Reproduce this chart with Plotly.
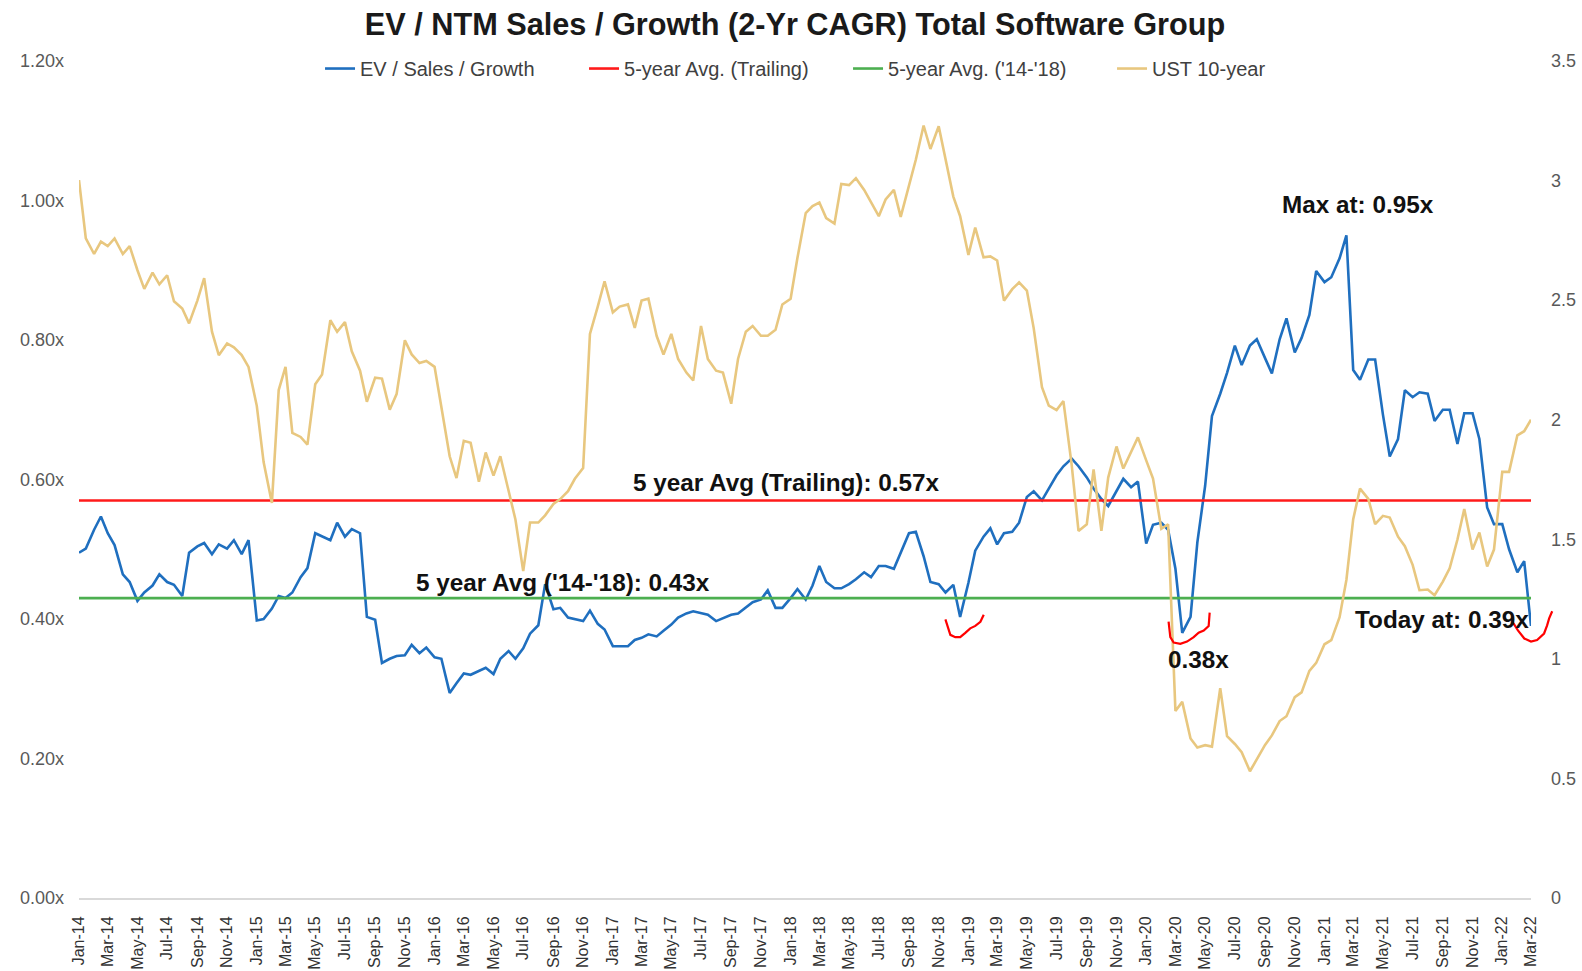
import pandas as pd
import plotly.graph_objects as go

# Semi-monthly observation dates (1st and 15th), Jan-2014 .. Mar-2022
dates = pd.date_range("2014-01-01", periods=197, freq="SMS")

# EV / NTM Sales / Growth multiple (left axis, x)
ev_sales_growth = [
    0.495, 0.501, 0.528, 0.547, 0.523, 0.506, 0.464, 0.453, 0.426, 0.438,
    0.448, 0.464, 0.453, 0.449, 0.433, 0.495, 0.504, 0.509, 0.493, 0.507,
    0.501, 0.513, 0.493, 0.513, 0.398, 0.400, 0.415, 0.433, 0.430, 0.438,
    0.460, 0.473, 0.523, 0.518, 0.513, 0.538, 0.518, 0.529, 0.523, 0.403,
    0.399, 0.337, 0.343, 0.347, 0.348, 0.363, 0.351, 0.359, 0.345, 0.343,
    0.294, 0.308, 0.322, 0.320, 0.326, 0.330, 0.321, 0.343, 0.354, 0.343,
    0.358, 0.379, 0.391, 0.450, 0.414, 0.416, 0.402, 0.400, 0.397, 0.412,
    0.393, 0.385, 0.361, 0.361, 0.361, 0.370, 0.373, 0.378, 0.375,
    0.383, 0.392, 0.402, 0.408, 0.411, 0.408, 0.406, 0.397, 0.401, 0.406,
    0.408, 0.416, 0.424, 0.428, 0.441, 0.416, 0.416, 0.430, 0.443, 0.428,
    0.448, 0.476, 0.453, 0.444, 0.444, 0.450, 0.457, 0.467, 0.460, 0.476,
    0.476, 0.472, 0.495, 0.523, 0.525, 0.490, 0.453, 0.450, 0.438,
    0.449, 0.403, 0.452, 0.498, 0.518, 0.530, 0.507, 0.523, 0.525, 0.538,
    0.575, 0.583, 0.570, 0.587, 0.606, 0.619, 0.630, 0.619, 0.603, 0.587,
    0.572, 0.562, 0.584, 0.601, 0.589, 0.597, 0.508, 0.535, 0.538, 0.528,
    0.472, 0.380, 0.403, 0.510, 0.591, 0.691, 0.723, 0.753, 0.792, 0.764,
    0.792, 0.801, 0.774, 0.752, 0.801, 0.831, 0.782, 0.803, 0.836, 0.899,
    0.883, 0.890, 0.917, 0.950, 0.757, 0.743, 0.772, 0.772, 0.693, 0.633,
    0.658, 0.728, 0.718, 0.725, 0.723, 0.684, 0.700, 0.700, 0.651, 0.695,
    0.695, 0.658, 0.560, 0.536, 0.536, 0.500, 0.467, 0.483, 0.390,
]

# UST 10-year yield (right axis, %)
ust_10y = [
    3.002, 2.758, 2.693, 2.745, 2.726, 2.758, 2.693, 2.726, 2.625, 2.547,
    2.615, 2.566, 2.604, 2.495, 2.465, 2.403, 2.498, 2.592, 2.368, 2.270,
    2.319, 2.303, 2.270, 2.221, 2.058, 1.823, 1.652, 2.124, 2.221, 1.945,
    1.928, 1.896, 2.148, 2.189, 2.416, 2.368, 2.408, 2.286, 2.205, 2.075,
    2.176, 2.172, 2.042, 2.107, 2.332, 2.273, 2.237, 2.246, 2.221, 2.058,
    1.847, 1.756, 1.912, 1.904, 1.741, 1.863, 1.766, 1.847, 1.701, 1.583,
    1.367, 1.570, 1.570, 1.600, 1.648, 1.668, 1.701, 1.753, 1.798, 2.359,
    2.473, 2.579, 2.449, 2.473, 2.482, 2.384, 2.498, 2.506, 2.350,
    2.273, 2.359, 2.254, 2.197, 2.164, 2.392, 2.254, 2.205, 2.197, 2.067,
    2.254, 2.368, 2.392, 2.351, 2.351, 2.376, 2.482, 2.506, 2.677, 2.864,
    2.893, 2.908, 2.843, 2.820, 2.986, 2.981, 3.010, 2.961, 2.908, 2.851,
    2.921, 2.961, 2.848, 2.978, 3.087, 3.230, 3.132, 3.227, 3.085,
    2.933, 2.851, 2.689, 2.803, 2.679, 2.683, 2.666, 2.498, 2.546, 2.574,
    2.540, 2.383, 2.136, 2.059, 2.040, 2.078, 1.811, 1.535, 1.563, 1.792,
    1.535, 1.758, 1.888, 1.796, 1.869, 1.926, 1.830, 1.754, 1.544, 1.563,
    0.782, 0.820, 0.667, 0.629, 0.639, 0.633, 0.877, 0.677, 0.644, 0.610,
    0.530, 0.580, 0.640, 0.680, 0.740, 0.760, 0.840, 0.860, 0.950, 0.983,
    1.061, 1.078, 1.174, 1.330, 1.584, 1.712, 1.669, 1.563, 1.598, 1.591,
    1.511, 1.471, 1.393, 1.287, 1.290, 1.266, 1.323, 1.379, 1.499, 1.627,
    1.457, 1.528, 1.386, 1.457, 1.782, 1.782, 1.935, 1.952, 2.000,
]

# Horizontal average lines
avg_trailing = 0.57
avg_14_18 = 0.43

series_names = ["EV / Sales / Growth", "5-year Avg. (Trailing)", "5-year Avg. ('14-'18)", "UST 10-year"]
series_colors = ["#1f6fbf", "#ff1a1a", "#4caf50", "#e8c77f"]

FONT = "Liberation Sans, Arial, sans-serif"

fig = go.Figure()
fig.add_trace(go.Scatter(x=dates, y=ev_sales_growth, name=series_names[0], mode="lines",
                         line=dict(color=series_colors[0], width=2.6)))
fig.add_trace(go.Scatter(x=[dates[0], dates[-1]], y=[avg_trailing, avg_trailing], name=series_names[1],
                         mode="lines", line=dict(color=series_colors[1], width=2.6)))
fig.add_trace(go.Scatter(x=[dates[0], dates[-1]], y=[avg_14_18, avg_14_18], name=series_names[2],
                         mode="lines", line=dict(color=series_colors[2], width=2.6)))
fig.add_trace(go.Scatter(x=dates, y=ust_10y, name=series_names[3], mode="lines", yaxis="y2",
                         line=dict(color=series_colors[3], width=2.6)))

# Hand-drawn red "smile" marks (paper coordinates)
arcs = [
    [(0.5967, 0.3328), (0.6001, 0.3144), (0.6035, 0.3116), (0.6069, 0.3116), (0.6104, 0.3168),
     (0.6138, 0.3222), (0.6173, 0.3251), (0.6208, 0.3300), (0.6231, 0.3384)],
    [(0.7504, 0.3302), (0.7516, 0.3116), (0.7539, 0.3052), (0.7585, 0.3036), (0.7631, 0.3063),
     (0.7677, 0.3116), (0.7711, 0.3169), (0.7746, 0.3195), (0.7780, 0.3250), (0.7787, 0.3409)],
    [(0.9864, 0.3323), (0.9910, 0.3197), (0.9954, 0.3100), (1.0000, 0.3064), (1.0042, 0.3082),
     (1.0090, 0.3160), (1.0111, 0.3257), (1.0125, 0.3341), (1.0146, 0.3426)],
]
for pts in arcs:
    path = "M " + " L ".join(f"{px},{py}" for px, py in pts)
    fig.add_shape(type="path", path=path, xref="paper", yref="paper",
                  line=dict(color="#ff0000", width=2.2), layer="above")

annotations = [
    ("Max at: 0.95x", "2021-03-10", 0.994),
    ("5 year Avg (Trailing): 0.57x", "2017-12-23", 0.596),
    ("5 year Avg ('14-'18): 0.43x", "2016-09-21", 0.452),
    ("0.38x", "2020-04-17", 0.342),
    ("Today at: 0.39x", "2021-08-30", 0.400),
]
for text, ax_, ay_ in annotations:
    fig.add_annotation(x=ax_, y=ay_, xref="x", yref="y", text=f"<b>{text}</b>", showarrow=False,
                       font=dict(family=FONT, size=24.3, color="#111111"))

fig.update_layout(
    width=1582, height=971,
    margin=dict(l=79, r=51, t=61, b=73),
    paper_bgcolor="white", plot_bgcolor="white",
    font=dict(family=FONT, color="#404040"),
    title=dict(text="<b>EV / NTM Sales / Growth (2-Yr CAGR) Total Software Group</b>",
               x=0.5025, xref="container", y=0.975, yref="container", yanchor="middle",
               font=dict(family=FONT, size=30.7, color="#1a1a1a")),
    legend=dict(orientation="h", x=0.166, xanchor="left", y=0.991, yanchor="middle",
                font=dict(family=FONT, size=20, color="#404040"), bgcolor="rgba(0,0,0,0)",
                itemwidth=30, entrywidth=219, entrywidthmode="pixels"),
    xaxis=dict(type="date", range=[dates[0], dates[-1]], tick0="2014-01-01", dtick="M2",
               tickformat="%b-%y", tickangle=-90, showgrid=False, zeroline=False,
               showline=True, linecolor="#d9d9d9", linewidth=2, ticks="", automargin=False,
               tickfont=dict(family=FONT, size=16, color="#333333"), ticklabelstandoff=10),
    yaxis=dict(range=[0, 1.2], dtick=0.2, tickformat=".2f", ticksuffix="x", showgrid=False,
               zeroline=False, ticks="", automargin=False,
               tickfont=dict(family=FONT, size=18, color="#595959"), ticklabelstandoff=14),
    yaxis2=dict(range=[0, 3.5], dtick=0.5, overlaying="y", side="right", showgrid=False,
                zeroline=False, ticks="", automargin=False,
                tickfont=dict(family=FONT, size=18, color="#595959"), ticklabelstandoff=19),
)

fig.write_html("out.html", config={"displayModeBar": False},
               post_script="document.body.style.margin='0';document.body.style.overflow='hidden';")
